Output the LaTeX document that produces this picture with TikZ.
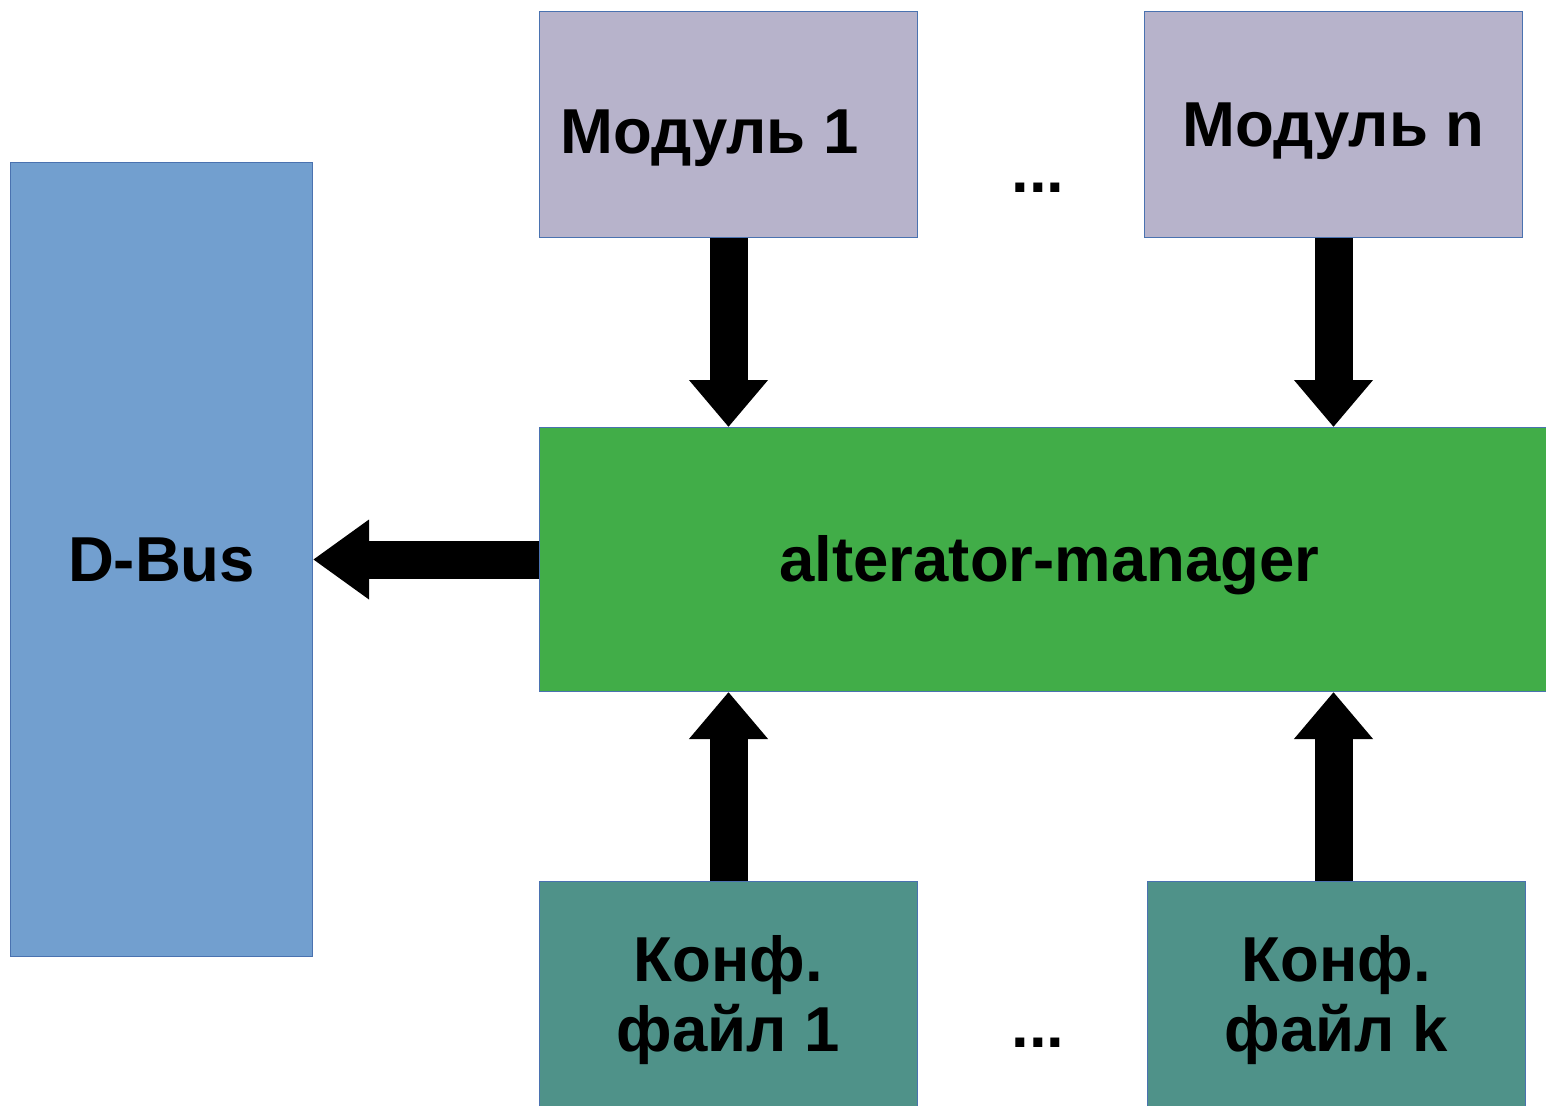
\documentclass[tikz,border=0pt]{standalone}
\usepackage{fontspec}
\setmainfont{Liberation Sans}
\usetikzlibrary{arrows.meta}
\definecolor{modcol}{HTML}{B7B3CB}
\definecolor{buscol}{HTML}{729FCF}
\definecolor{mgrcol}{HTML}{41AD48}
\definecolor{cfgcol}{HTML}{4F9289}
\definecolor{edgecol}{HTML}{4A72B0}
\begin{document}
\begin{tikzpicture}[x=1pt,y=-1pt,
  txt/.style={font=\fontsize{63.5}{70}\selectfont\bfseries, align=center, inner sep=0pt},
  oneline/.style={text height=44pt, text depth=0pt},
  box/.style={txt, draw=edgecol, line width=1pt, anchor=north west},
  cfgbox/.style={box, fill=cfgcol, minimum width=378pt, minimum height=230pt, text depth=7pt},
  fat/.style={line width=38pt, -{Triangle[length=47pt,width=76pt]}},
  fatlong/.style={line width=38pt, -{Triangle[length=56pt,width=76pt]}}]
\useasboundingbox (0,0) rectangle (1546,1105);
\node[box, oneline, fill=buscol, minimum width=302pt, minimum height=794pt] (bus) at (10,162) {D-Bus};
\node[box, fill=modcol, minimum width=378pt, minimum height=226pt,
  label={[txt, oneline, xshift=-19pt, yshift=-7pt]center:Модуль 1}] (m1) at (539,11) {};
\node[box, oneline, fill=modcol, minimum width=378pt, minimum height=226pt] (mn) at (1144,11) {Модуль n};
\node[box, oneline, fill=mgrcol, minimum width=1020pt, minimum height=264pt] (mgr) at (539,427) {alterator-manager};
\node[cfgbox] (c1) at (539,881) {Конф.\\файл 1};
\node[cfgbox] (ck) at (1147,881) {Конф.\\файл k};
\node[txt, anchor=base] (d1) at (1038,192) {...};
\node[txt, anchor=base] (d2) at (1038,1047) {...};
\draw[fat] (m1.south) -- (m1.south |- mgr.north);
\draw[fat] (mn.south) -- (mn.south |- mgr.north);
\draw[fat] (c1.north) -- (c1.north |- mgr.south);
\draw[fat] (ck.north -| mn.south) -- (mgr.south -| mn.south);
\draw[fatlong] (mgr.west) -- (bus.east |- mgr.west);
\end{tikzpicture}
\end{document}
